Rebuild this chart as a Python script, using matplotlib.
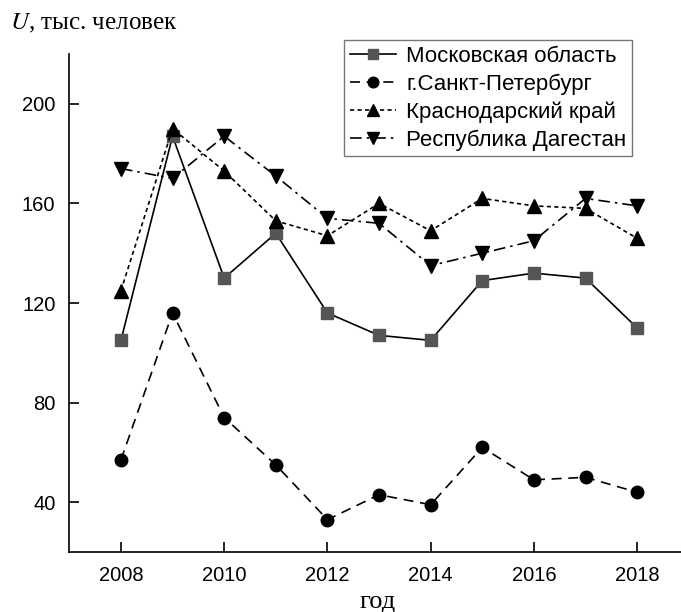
import matplotlib.pyplot as plt
import numpy as np

years = np.arange(2008, 2019)

moscow = [105, 187, 130, 148, 116, 107, 105, 129, 132, 130, 110]
spb = [57, 116, 74, 55, 33, 43, 39, 62, 49, 50, 44]
krasnodar = [125, 190, 173, 153, 147, 160, 149, 162, 159, 158, 146]
dagestan = [174, 170, 187, 171, 154, 152, 135, 140, 145, 162, 159]

labels = ['Московская область', 'г.Санкт-Петербург',
          'Краснодарский край', 'Республика Дагестан']

plt.rcParams['font.family'] = 'Liberation Sans'

fig = plt.figure(figsize=(6.81, 6.12), dpi=100)
ax = fig.add_axes([0.1018, 0.098, 0.8982, 0.8138])

ax.plot(years, moscow, color='black', lw=1.2, ls='-', marker='s', ms=8.5,
        mfc='#555555', mec='#555555', label=labels[0])
ax.plot(years, spb, color='black', lw=1.2, ls=(0, (6, 4)), marker='o', ms=9,
        mfc='black', mec='black', label=labels[1])
ax.plot(years, krasnodar, color='black', lw=1.2, ls=(0, (2.5, 2)), marker='^', ms=10,
        mfc='black', mec='black', label=labels[2])
ax.plot(years, dagestan, color='black', lw=1.2, ls=(0, (7, 3, 1.5, 3)), marker='v', ms=10,
        mfc='black', mec='black', label=labels[3])

ax.set_xlim(2007, 2018.85)
ax.set_ylim(20, 220)
ax.set_xticks([2008, 2010, 2012, 2014, 2016, 2018])
ax.set_yticks([40, 80, 120, 160, 200])
ax.tick_params(direction='in', length=7, width=1.2, labelsize=14.5, pad=10)
ax.spines['top'].set_visible(False)
ax.spines['right'].set_visible(False)
for s in ['left', 'bottom']:
    ax.spines[s].set_linewidth(1.2)

fig.text(0.015, 0.962, r'$U$, тыс. человек', family='Liberation Serif', fontsize=18,
         va='center', math_fontfamily='stix')
fig.text(378 / 681, 1 - 602 / 612, 'год', family='Liberation Serif', fontsize=19,
         ha='center', va='center')

leg = ax.legend(loc='upper left', bbox_to_anchor=(344 / 681, 1 - 40 / 612),
                bbox_transform=fig.transFigure, fontsize=16, fancybox=False,
                edgecolor='#777777', framealpha=1, handlelength=2.1,
                handletextpad=0.45, borderpad=0.25, labelspacing=0.3,
                borderaxespad=0, markerscale=0.85)
leg.get_frame().set_linewidth(1.0)

fig.savefig('out.png', dpi=100)
